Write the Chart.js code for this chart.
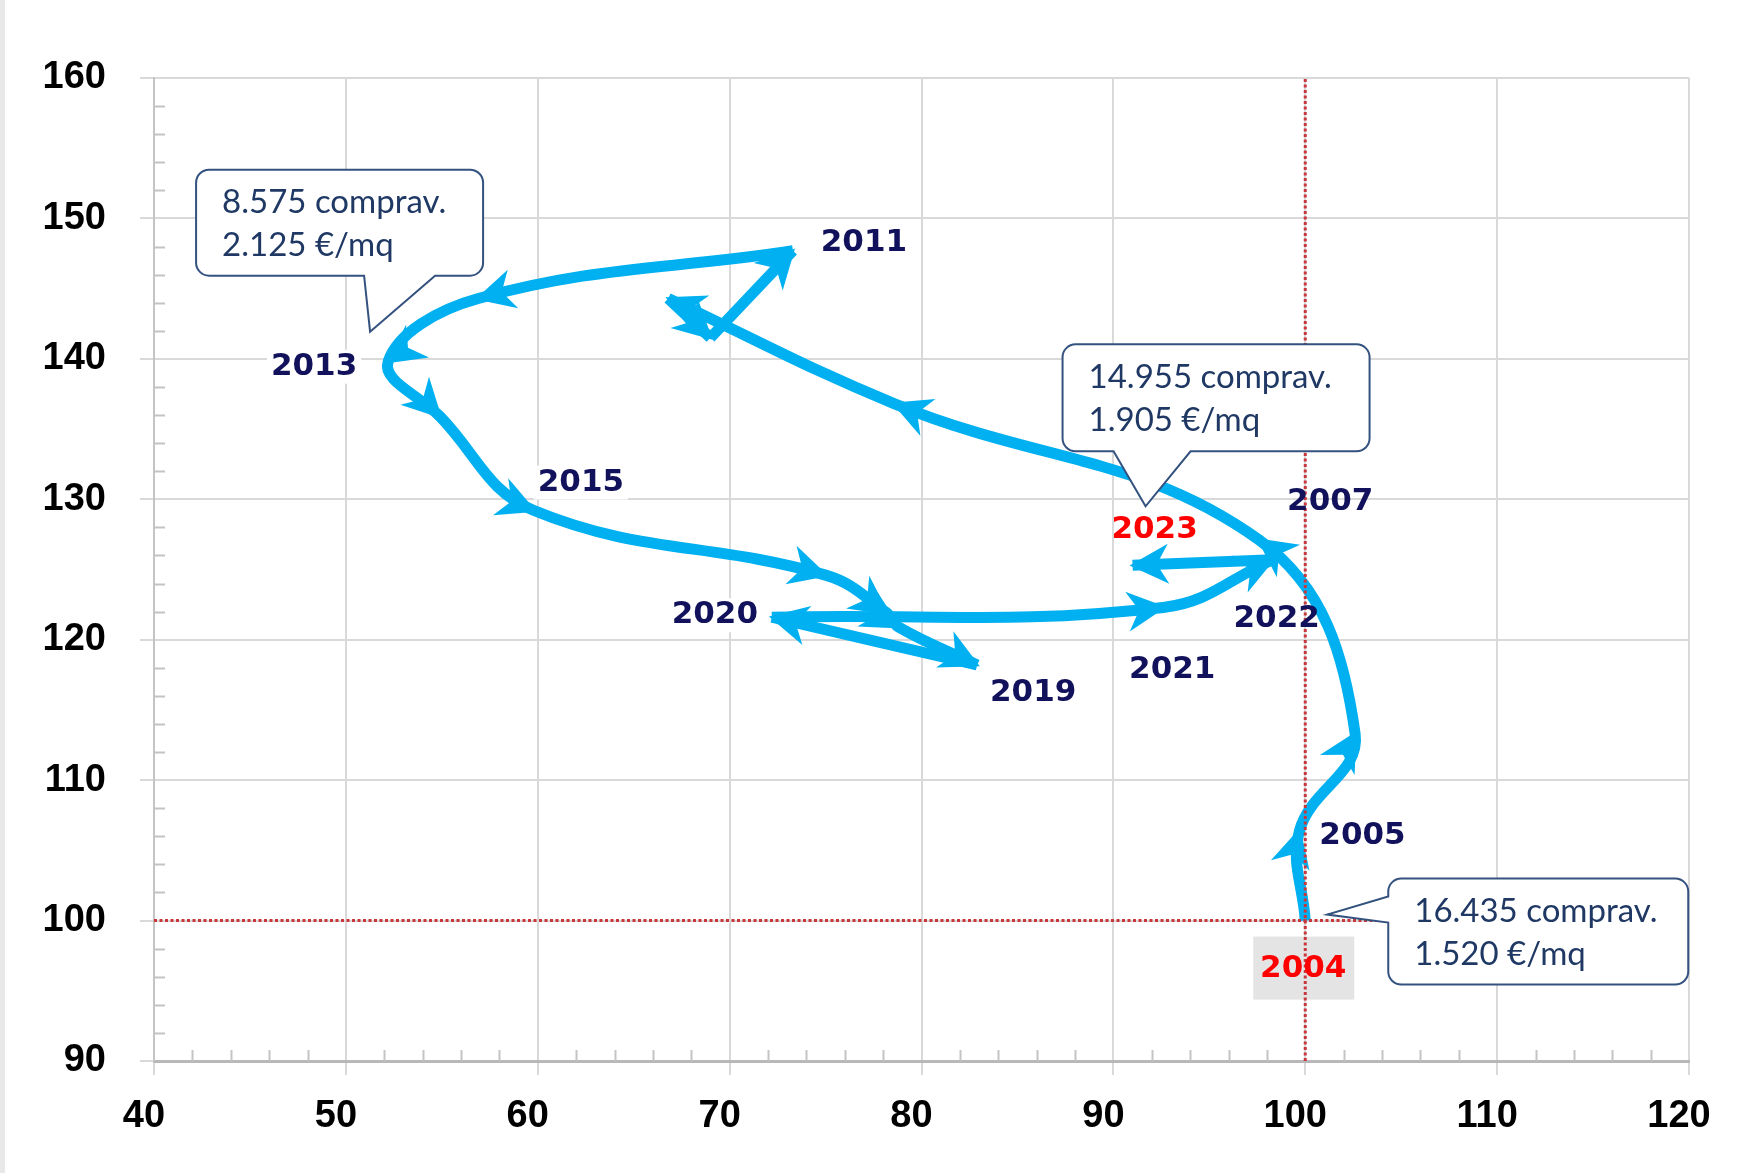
<!DOCTYPE html>
<html lang="it">
<head>
  <meta charset="UTF-8">
  <title>Compravendite e prezzi (2004 = 100)</title>
  <script src="https://cdn.jsdelivr.net/npm/chart.js"></script>
  <style>
    body { margin: 0; background: #fff; }
    #wrap { width: 1742px; height: 1173px; }
  </style>
</head>
<body>
  <div id="wrap"><canvas id="grafico" width="1742" height="1173"></canvas></div>

  <script>
    // dati: indice compravendite (asse x) e indice prezzi €/mq (asse y), 2004 = 100
    const anni = ['2004', '2005', '2006', '2007', '2008', '2009', '2010', '2011', '2012', '2013',
                  '2014', '2015', '2016', '2017', '2018', '2019', '2020', '2021', '2022', '2023'];
    const indiceCompravendite = [100.0, 99.7, 102.6, 97.6, 78.6, 66.8, 69.0, 73.3, 56.9, 52.2,
                                 54.9, 59.8, 75.0, 78.2, 78.8, 82.9, 72.2, 92.6, 98.3, 91.0];
    const indicePrezzi = [100.0, 106.4, 113.3, 127.1, 136.8, 144.3, 141.5, 147.7, 144.3, 139.8,
                          135.9, 129.2, 124.6, 121.9, 120.9, 118.2, 121.6, 122.3, 125.7, 125.3];

    const ticksX = [40, 50, 60, 70, 80, 90, 100, 110, 120];
    const ticksY = [90, 100, 110, 120, 130, 140, 150, 160];
    const riferimento = 100;

    // anni dove il percorso cambia bruscamente direzione (la curva riparte da lì)
    const interruzioni = ['2009', '2010', '2011', '2019', '2020', '2022'];

    const anniEtichettati = ['2004', '2005', '2007', '2011', '2013', '2015', '2019', '2020', '2021', '2022', '2023'];
    const anniRossi = ['2004', '2023'];
    const nuvolette = [
      { anno: '2013', righe: ['8.575 comprav.', '2.125 €/mq'] },
      { anno: '2023', righe: ['14.955 comprav.', '1.905 €/mq'] },
      { anno: '2004', righe: ['16.435 comprav.', '1.520 €/mq'] }
    ];

    // stile e posizioni (pixel, relativi al punto dell'anno)
    const BLU = '#00B0F0';
    const NAVY = '#12125c';
    const ROSSO = '#ff0000';
    const posEtichette = {
      '2004': [-2, 48], '2005': [63, 5], '2007': [71, -38], '2011': [71, -8], '2013': [-74, 5],
      '2015': [47, -28], '2019': [56, 28], '2020': [-57, -2], '2021': [9, 63], '2022': [4, 59], '2023': [22, -35]
    };
    const fondoBianco = ['2011', '2013', '2015', '2020'];
    const stileNuvolette = {
      '2013': { dx: -192, dy: -192, w: 287, h: 106, lato: 'bottom', b1: -24, b2: 47, tx: -18, ty: -30 },
      '2023': { dx: -70, dy: -221, w: 307, h: 107, lato: 'bottom', b1: -19, b2: 58, tx: 13, ty: -59 },
      '2004': { dx: 83, dy: -42, w: 300, h: 106, lato: 'left', b1: -24, b2: 2, tx: 22, ty: -6 }
    };

    const tickFont = { family: 'Liberation Sans', size: 38, weight: 'bold' };

    function puntoAnno(chart, anno) {
      const i = anni.indexOf(anno);
      return {
        x: chart.scales.x.getPixelForValue(indiceCompravendite[i]),
        y: chart.scales.y.getPixelForValue(indicePrezzi[i])
      };
    }

    // bordo grigio a sinistra + tacche secondarie ogni 2 unità, verso l'interno
    const tacche = {
      id: 'tacche',
      beforeDraw(chart) {
        const ctx = chart.ctx;
        ctx.save();
        ctx.fillStyle = '#e8e8e8';
        ctx.fillRect(0, 0, 5, chart.height);
        ctx.restore();
      },
      beforeDatasetsDraw(chart) {
        const { ctx, chartArea, scales } = chart;
        ctx.save();
        ctx.strokeStyle = '#c4c4c4';
        ctx.lineWidth = 2;
        ctx.beginPath();
        for (let v = 42; v < 120; v += 2) {
          if (v % 10 === 0) continue;
          const x = Math.round(scales.x.getPixelForValue(v)) + 0.5;
          ctx.moveTo(x, chartArea.bottom);
          ctx.lineTo(x, chartArea.bottom - 11);
        }
        for (let v = 92; v < 160; v += 2) {
          if (v % 10 === 0) continue;
          const y = Math.round(scales.y.getPixelForValue(v)) + 0.5;
          ctx.moveTo(chartArea.left, y);
          ctx.lineTo(chartArea.left + 11, y);
        }
        ctx.stroke();
        ctx.restore();
      }
    };

    // punte di freccia alla fine di ogni tratto
    const frecce = {
      id: 'frecce',
      afterDatasetDraw(chart, args) {
        if (!chart.data.datasets[args.index].percorso) return;
        const pts = args.meta.data;
        const ctx = chart.ctx;
        ctx.save();
        ctx.fillStyle = BLU;
        for (let i = 1; i < pts.length; i++) {
          const p = pts[i], q = pts[i - 1];
          // direzione della corda
          let cx = p.x - q.x, cy = p.y - q.y;
          const lc = Math.hypot(cx, cy) || 1;
          cx /= lc; cy /= lc;
          // direzione tangente della curva
          let dx = cx, dy = cy;
          if (p.cp1x !== undefined) {
            let tx = p.x - p.cp1x, ty = p.y - p.cp1y;
            const lt = Math.hypot(tx, ty);
            if (lt > 0.5) {
              tx /= lt; ty /= lt;
              if (tx * cx + ty * cy > 0.8) { dx = tx; dy = ty; }
            }
          }
          const nx = -dy, ny = dx;
          const L = 39, W = 20, N = 0.7;
          const ax = p.x + dx * 3, ay = p.y + dy * 3;
          ctx.beginPath();
          ctx.moveTo(ax, ay);
          ctx.lineTo(ax - dx * L + nx * W, ay - dy * L + ny * W);
          ctx.lineTo(ax - dx * L * N, ay - dy * L * N);
          ctx.lineTo(ax - dx * L - nx * W, ay - dy * L - ny * W);
          ctx.closePath();
          ctx.fill();
        }
        ctx.restore();
      }
    };

    // etichette degli anni
    const etichette = {
      id: 'etichette',
      beforeDatasetsDraw(chart) {
        const ctx = chart.ctx;
        ctx.save();
        ctx.font = 'bold 31px "DejaVu Sans"';
        anniEtichettati.forEach(a => {
          const p = puntoAnno(chart, a);
          const [ox, oy] = posEtichette[a];
          const w = ctx.measureText(a).width;
          if (a === '2004') {
            ctx.fillStyle = '#e4e4e4';
            ctx.fillRect(p.x + ox - 50, p.y + oy - 32, 101, 63);
          } else if (fondoBianco.includes(a)) {
            ctx.fillStyle = '#fff';
            ctx.fillRect(p.x + ox - w / 2 - 4, p.y + oy - 17, w + 8, 34);
          }
        });
        ctx.restore();
      },
      afterDatasetsDraw(chart) {
        const ctx = chart.ctx;
        ctx.save();
        ctx.font = 'bold 31px "DejaVu Sans"';
        ctx.textAlign = 'center';
        ctx.textBaseline = 'middle';
        anniEtichettati.forEach(a => {
          const p = puntoAnno(chart, a);
          const [ox, oy] = posEtichette[a];
          ctx.fillStyle = anniRossi.includes(a) ? ROSSO : NAVY;
          ctx.fillText(a, p.x + ox, p.y + oy);
        });
        ctx.restore();
      }
    };

    function formaNuvoletta(ctx, L, T, W, H, r, lato, b1, b2, tx, ty) {
      const R = L + W, B = T + H;
      ctx.beginPath();
      ctx.moveTo(L + r, T);
      ctx.lineTo(R - r, T);
      ctx.arcTo(R, T, R, T + r, r);
      ctx.lineTo(R, B - r);
      ctx.arcTo(R, B, R - r, B, r);
      if (lato === 'bottom') { ctx.lineTo(b2, B); ctx.lineTo(tx, ty); ctx.lineTo(b1, B); }
      ctx.lineTo(L + r, B);
      ctx.arcTo(L, B, L, B - r, r);
      if (lato === 'left') { ctx.lineTo(L, b2); ctx.lineTo(tx, ty); ctx.lineTo(L, b1); }
      ctx.lineTo(L, T + r);
      ctx.arcTo(L, T, L + r, T, r);
      ctx.closePath();
    }

    const fumetti = {
      id: 'fumetti',
      afterDraw(chart) {
        const ctx = chart.ctx;
        ctx.save();
        nuvolette.forEach(n => {
          const s = stileNuvolette[n.anno];
          const p = puntoAnno(chart, n.anno);
          const L = p.x + s.dx, T = p.y + s.dy;
          const base = s.lato === 'bottom' ? p.x : p.y;
          formaNuvoletta(ctx, L, T, s.w, s.h, 13, s.lato, base + s.b1, base + s.b2, p.x + s.tx, p.y + s.ty);
          ctx.fillStyle = '#fff';
          ctx.fill();
          ctx.strokeStyle = '#34527f';
          ctx.lineWidth = 2;
          ctx.lineJoin = 'miter';
          ctx.stroke();
          ctx.fillStyle = '#1f3864';
          ctx.font = '33px Lato';
          ctx.textAlign = 'left';
          ctx.textBaseline = 'middle';
          ctx.fillText(n.righe[0], L + 26, T + 33);
          ctx.fillText(n.righe[1], L + 26, T + 76);
        });
        ctx.restore();
      }
    };

    const punti = anni.map((a, i) => ({ x: indiceCompravendite[i], y: indicePrezzi[i] }));

    // il percorso viene spezzato in tratti agli anni di interruzione
    const tratti = [];
    let inizio = 0;
    interruzioni.forEach(a => {
      const k = anni.indexOf(a);
      tratti.push(punti.slice(inizio, k + 1));
      inizio = k;
    });
    tratti.push(punti.slice(inizio));

    const datasetsPercorso = tratti.map((t, i) => ({
      label: 'Percorso ' + (i + 1),
      percorso: true,
      data: t,
      showLine: true,
      borderColor: BLU,
      borderWidth: 11,
      borderCapStyle: 'butt',
      borderJoinStyle: 'round',
      tension: 0.4,
      pointRadius: 0,
      order: 1
    }));

    const datasetsRiferimento = [
      {
        label: 'Rif. x',
        data: [{ x: riferimento, y: ticksY[0] }, { x: riferimento, y: ticksY[ticksY.length - 1] }],
        showLine: true,
        borderColor: '#c8373c',
        borderWidth: 3,
        borderDash: [3, 2.5],
        pointRadius: 0,
        order: 0
      },
      {
        label: 'Rif. y',
        data: [{ x: ticksX[0], y: riferimento }, { x: ticksX[ticksX.length - 1], y: riferimento }],
        showLine: true,
        borderColor: '#c8373c',
        borderWidth: 3,
        borderDash: [3, 2.5],
        pointRadius: 0,
        order: 0
      }
    ];

    new Chart(document.getElementById('grafico'), {
      type: 'scatter',
      data: { datasets: datasetsPercorso.concat(datasetsRiferimento) },
      options: {
        responsive: false,
        devicePixelRatio: 1,
        animation: false,
        layout: { padding: { top: 78, right: 53, left: 0, bottom: 0 } },
        plugins: { legend: { display: false }, tooltip: { enabled: false } },
        scales: {
          x: {
            type: 'linear',
            min: ticksX[0],
            max: ticksX[ticksX.length - 1],
            afterBuildTicks: s => { s.ticks = ticksX.map(v => ({ value: v })); },
            afterFit: s => { s.height = 112; },
            ticks: { font: tickFont, color: '#000', padding: 19, labelOffset: -10, maxRotation: 0 },
            grid: { color: '#d9d9d9', lineWidth: 2, tickLength: 14, tickColor: '#d9d9d9' },
            border: { color: '#b8b8b8', width: 3 }
          },
          y: {
            type: 'linear',
            min: ticksY[0],
            max: ticksY[ticksY.length - 1],
            afterBuildTicks: s => { s.ticks = ticksY.map(v => ({ value: v })); },
            afterFit: s => { s.width = 154; },
            ticks: { font: tickFont, color: '#000', padding: 34 },
            grid: { color: '#d9d9d9', lineWidth: 2, tickLength: 14, tickColor: '#d9d9d9' },
            border: { color: '#c4c4c4', width: 2 }
          }
        }
      },
      plugins: [tacche, etichette, frecce, fumetti]
    });
  </script>
</body>
</html>
